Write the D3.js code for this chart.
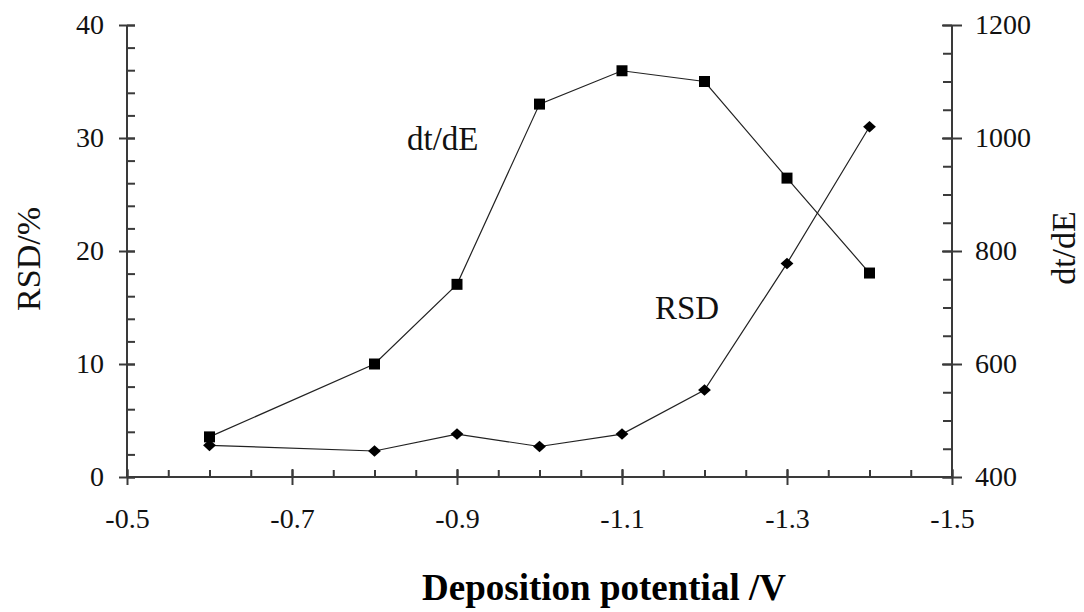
<!DOCTYPE html>
<html lang="en">
<head>
    <meta charset="UTF-8">
    <title>RSD and dt/dE vs deposition potential</title>
    <script src="https://cdnjs.cloudflare.com/ajax/libs/d3/7.8.5/d3.min.js" charset="utf-8"></script>
    <style>
        body { margin: 0; background: #fff; }
        svg { font-family: "Liberation Serif", "DejaVu Serif", serif; }
        .axis path, .axis line { stroke: #3a3a3a; stroke-width: 2px; }
        .axis text { font-size: 28px; fill: #111; font-family: "Liberation Serif", serif; }
        .series { fill: none; stroke: #222; stroke-width: 1.2px; }
    </style>
</head>
<body>
<svg width="1084" height="612"></svg>
<script>
    // data
    var potential = [-0.6, -0.8, -0.9, -1.0, -1.1, -1.2, -1.3, -1.4];
    var rsd = [2.8, 2.3, 3.8, 2.7, 3.8, 7.7, 18.9, 31.0];
    var dtdE = [471, 600, 741, 1060, 1119, 1100, 929, 761];

    var xTicks = [-0.5, -0.7, -0.9, -1.1, -1.3, -1.5];
    var leftTicks = [0, 10, 20, 30, 40];
    var rightTicks = [400, 600, 800, 1000, 1200];

    // plot box (window.top is reserved, so use other names)
    var plotL = 127, plotR = 952, plotT = 25, plotB = 477;

    var svg = d3.select("svg");

    var x = d3.scaleLinear().domain([-0.5, -1.5]).range([plotL, plotR]);
    var yL = d3.scaleLinear().domain([0, 40]).range([plotB, plotT]);
    var yR = d3.scaleLinear().domain([400, 1200]).range([plotB, plotT]);

    // plain hyphen instead of the unicode minus
    var fmtX = function (d) { return d3.format(".1f")(d).replace("\u2212", "-"); };

    // minor ticks first (inward, no labels)
    svg.append("g").attr("class", "axis")
        .attr("transform", "translate(0," + plotB + ")")
        .call(d3.axisBottom(x).tickValues(d3.range(-0.5, -1.51, -0.05)).tickSize(-7).tickFormat(""))
        .select(".domain").remove();
    svg.append("g").attr("class", "axis")
        .attr("transform", "translate(" + plotL + ",0)")
        .call(d3.axisLeft(yL).tickValues(d3.range(0, 40.1, 2)).tickSize(-8).tickFormat(""))
        .select(".domain").remove();
    svg.append("g").attr("class", "axis")
        .attr("transform", "translate(" + plotR + ",0)")
        .call(d3.axisRight(yR).tickValues(d3.range(400, 1201, 50)).tickSize(-9).tickFormat(""))
        .select(".domain").remove();

    // major ticks cross the axis line
    var gx = svg.append("g").attr("class", "axis")
        .attr("transform", "translate(0," + plotB + ")")
        .call(d3.axisBottom(x).tickValues(xTicks).tickSize(8).tickSizeOuter(0).tickFormat(fmtX));
    gx.selectAll(".tick line").attr("y1", -8);
    gx.selectAll(".tick text").attr("dy", null).attr("y", 51);
    gx.select(".domain").remove();

    var gl = svg.append("g").attr("class", "axis")
        .attr("transform", "translate(" + plotL + ",0)")
        .call(d3.axisLeft(yL).tickValues(leftTicks).tickSize(8).tickPadding(15).tickSizeOuter(0)
            .tickFormat(d3.format("d")));
    gl.selectAll(".tick line").attr("x1", 8);
    gl.select(".domain").remove();

    var gr = svg.append("g").attr("class", "axis")
        .attr("transform", "translate(" + plotR + ",0)")
        .call(d3.axisRight(yR).tickValues(rightTicks).tickSize(10).tickPadding(13).tickSizeOuter(0)
            .tickFormat(d3.format("d")));
    gr.selectAll(".tick line").attr("x1", -10);
    gr.select(".domain").remove();

    // axis lines
    svg.append("line")
        .attr("x1", plotL).attr("x2", plotR).attr("y1", plotB).attr("y2", plotB)
        .attr("stroke", "#3a3a3a").attr("stroke-width", 2);
    svg.append("line")
        .attr("x1", plotL).attr("x2", plotL).attr("y1", plotT).attr("y2", plotB)
        .attr("stroke", "#3a3a3a").attr("stroke-width", 2);
    svg.append("line")
        .attr("x1", plotR).attr("x2", plotR).attr("y1", plotT).attr("y2", plotB)
        .attr("stroke", "#3a3a3a").attr("stroke-width", 2);

    // series
    var rsdLine = d3.line().x(function (d, i) { return x(potential[i]); })
        .y(function (d) { return yL(d); });
    var dtLine = d3.line().x(function (d, i) { return x(potential[i]); })
        .y(function (d) { return yR(d); });

    svg.append("path").attr("class", "series").attr("d", dtLine(dtdE));
    svg.append("path").attr("class", "series").attr("d", rsdLine(rsd));

    svg.selectAll(".sq").data(dtdE).enter().append("path")
        .attr("class", "sq")
        .attr("d", d3.symbol(d3.symbolSquare, 121))
        .attr("transform", function (d, i) { return "translate(" + x(potential[i]) + "," + yR(d) + ")"; })
        .attr("fill", "#000");

    svg.selectAll(".dm").data(rsd).enter().append("path")
        .attr("class", "dm")
        .attr("d", d3.symbol(d3.symbolDiamond2, 105))
        .attr("transform", function (d, i) { return "translate(" + x(potential[i]) + "," + yL(d) + ") scale(1,0.9)"; })
        .attr("fill", "#000");

    // inline labels
    svg.append("text").attr("x", 407).attr("y", 150)
        .attr("font-size", 33).attr("fill", "#111").text("dt/dE");
    svg.append("text").attr("x", 655).attr("y", 319)
        .attr("font-size", 33).attr("fill", "#111").text("RSD");

    // axis titles
    svg.append("text")
        .attr("transform", "translate(40,259) rotate(-90)")
        .attr("text-anchor", "middle").attr("font-size", 34).attr("fill", "#111")
        .text("RSD/%");
    svg.append("text")
        .attr("transform", "translate(1075,248) rotate(-90)")
        .attr("text-anchor", "middle").attr("font-size", 34).attr("fill", "#111")
        .text("dt/dE");
    svg.append("text")
        .attr("x", 604).attr("y", 600)
        .attr("text-anchor", "middle").attr("font-size", 37).attr("font-weight", "bold")
        .attr("fill", "#000")
        .text("Deposition potential /V");
</script>
</body>
</html>
